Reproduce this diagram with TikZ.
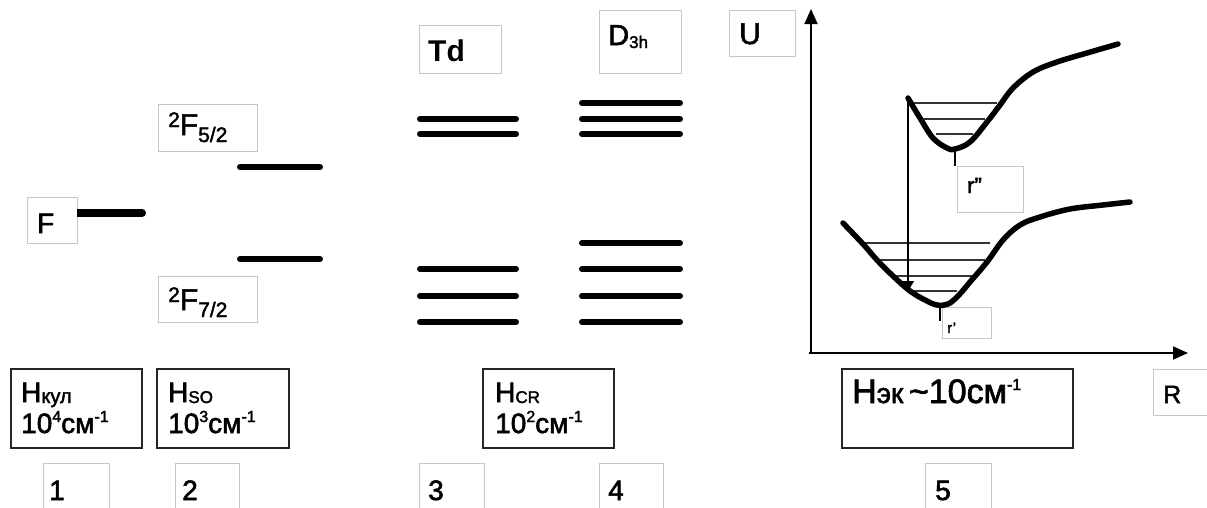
\documentclass[tikz,border=0pt]{standalone}
\usepackage{fontspec}
\setmainfont{Liberation Sans}[FakeBold=2]
\newfontfamily\tdfont{Liberation Sans Bold}
\usetikzlibrary{arrows.meta}
\newcommand\fsz[1]{\fontsize{#1}{#1}\selectfont}
\newcommand\upx[3]{\raisebox{#1pt}{\fsz{#2}#3}}
\newcommand\dnx[3]{\raisebox{-#1pt}{\fsz{#2}#3}}
\newcommand\bxn[6]{\node[#1,inner sep=0pt,minimum width={(#4-#2)*1pt},minimum height={(#5-#3)*1pt}] (#6) at ({(#2+#4)/2},{(#3+#5)/2}) {};}
\begin{document}
\begin{tikzpicture}[x=1pt,y=-1pt,
  graybox/.style={draw=black!22,line width=0.8pt},
  blackbox/.style={draw=black!85,line width=1.6pt},
  level/.style={line width=6pt,line cap=round},
  flevel/.style={line width=8pt},
  vib/.style={draw=black!80,line width=1.1pt},
  pcurve/.style={line width=5.5pt,line cap=round,line join=round},
  axisarrow/.style={line width=1.8pt,-{Triangle[width=13pt,length=15pt]}},
  trans/.style={line width=1.3pt,-{Triangle[width=12pt,length=10pt]}},
  tick/.style={line width=2pt},
  txt/.style={anchor=base west,inner sep=0pt}]
\useasboundingbox (0,0) rectangle (1207,507);
\fill[white] (0,0) rectangle (1207,507);

% ---- gray label boxes ----
\bxn{graybox}{27}{197}{77}{243}{bF}
\bxn{graybox}{158}{104}{257}{151}{bF52}
\bxn{graybox}{158}{276}{257}{322}{bF72}
\bxn{graybox}{419}{25}{501}{73}{bTd}
\bxn{graybox}{599}{10}{681}{73}{bD3h}
\bxn{graybox}{729}{10}{795}{56}{bU}
\bxn{graybox}{957}{166}{1023}{212}{brr}
\bxn{graybox}{942}{307}{991}{338}{br}
\bxn{graybox}{1153}{369}{1215}{415}{bR}
\bxn{graybox}{43}{463}{109}{515}{b1}
\bxn{graybox}{175}{463}{239}{515}{b2}
\bxn{graybox}{419}{463}{484}{515}{b3}
\bxn{graybox}{599}{463}{663}{515}{b4}
\bxn{graybox}{925}{463}{991}{515}{b5}

% ---- black boxes ----
\bxn{blackbox}{11}{369}{142}{448}{bH1}
\bxn{blackbox}{157}{369}{289}{448}{bH2}
\bxn{blackbox}{483}{369}{614}{448}{bH3}
\bxn{blackbox}{842}{369}{1073}{448}{bH5}

% ---- texts ----
\node[txt,font=\fsz{28}] (tF) at (37,233) {F};
\node[txt,font=\fsz{30}] (tF52) at (168,135) {\upx{8}{21}{2}F\dnx{7}{21}{5/2}};
\node[txt,font=\fsz{30}] (tF72) at (168,310) {\upx{8}{21}{2}F\dnx{7}{21}{7/2}};
\node[txt,font=\fsz{30}\tdfont] (tTd) at (428,61) {Td};
\node[txt,font=\fsz{29}] (tD3h) at (608,45) {D\dnx{3}{17}{3h}};
\node[txt,font=\fsz{30}] (tU) at (739,44) {U};
\node[txt,font=\fsz{22}] (trr) at (967,193) {r”};
\node[txt,font=\fsz{15}] (tr) at (947,333) {r’};
\node[txt,font=\fsz{25}] (tR) at (1163,403) {R};

\node[txt,font=\fsz{28}] (tH1a) at (21,402) {H\dnx{1}{20}{кул}};
\node[txt,font=\fsz{28}] (tH1b) at (21,433) {10\upx{11}{16}{4}см\upx{11}{16}{-1}};
\node[txt,font=\fsz{28}] (tH2a) at (168,402) {H\dnx{1}{17}{SO}};
\node[txt,font=\fsz{28}] (tH2b) at (168,433) {10\upx{11}{16}{3}см\upx{11}{16}{-1}};
\node[txt,font=\fsz{28}] (tH3a) at (495,402) {H\dnx{1}{17}{CR}};
\node[txt,font=\fsz{28}] (tH3b) at (495,433) {10\upx{11}{16}{2}см\upx{11}{16}{-1}};
\node[txt,font=\fsz{34}] (tH5) at (852,403) {H{\fsz{28}эк}\,\textasciitilde10см\upx{13}{16}{-1}};

\node[txt,font=\fsz{28}] (t1) at (49,500) {1};
\node[txt,font=\fsz{28}] (t2) at (182,500) {2};
\node[txt,font=\fsz{28}] (t3) at (428,500) {3};
\node[txt,font=\fsz{28}] (t4) at (608,500) {4};
\node[txt,font=\fsz{28}] (t5) at (935,500) {5};

% ---- energy levels ----
\draw[flevel] (bF.east |- 0,213) -- (143,213);
\draw[flevel,line cap=round] (140,213) -- (142,213);
\draw[level] (240,167) -- (320,167);
\draw[level] (240,259) -- (320,259);
\foreach \yy in {119,134,269,296,322} \draw[level] (420,\yy) -- (516,\yy);
\foreach \yy in {103,119,134,243,269,296,322} \draw[level] (582,\yy) -- (680,\yy);

% ---- potential curves ----
\coordinate (O) at (811,353);
\coordinate (Ytip) at (811,9);
\coordinate (Xtip) at (1188,353);
\draw[axisarrow] (O) -- (Ytip);
\draw[axisarrow] (809,353) -- (Xtip);

% vibrational levels
\draw[vib] (913,103) -- (997,103);
\draw[vib] (921,119) -- (985,119);
\draw[vib] (936,134) -- (973,134);
\draw[vib] (863,243) -- (990,243);
\draw[vib] (877,260) -- (985,260);
\draw[vib] (893,276) -- (972,276);
\draw[vib] (910,291) -- (957,291);

\draw[pcurve] plot[smooth,tension=0.6] coordinates {(908,98) (920,118) (933,138) (947,148) (955,149) (970,142) (987,122) (1000,105) (1013,88) (1033,72) (1057,62) (1087,53) (1118,44)};
\draw[pcurve] plot[smooth,tension=0.6] coordinates {(843,223) (863,244) (877,260) (893,276) (910,291) (925,300) (937,305) (948,304) (958,296) (970,282) (987,262) (1003,240) (1020,225) (1040,217) (1070,209) (1103,205) (1130,202)};

\coordinate (Tstart) at (908,98);
\coordinate (Tend) at (908,291);
\draw[trans] (Tstart) -- (Tend);

\draw[tick] (955,150) -- (955,166);
\draw[tick] (940,306) -- (940,321);
\end{tikzpicture}
\end{document}
